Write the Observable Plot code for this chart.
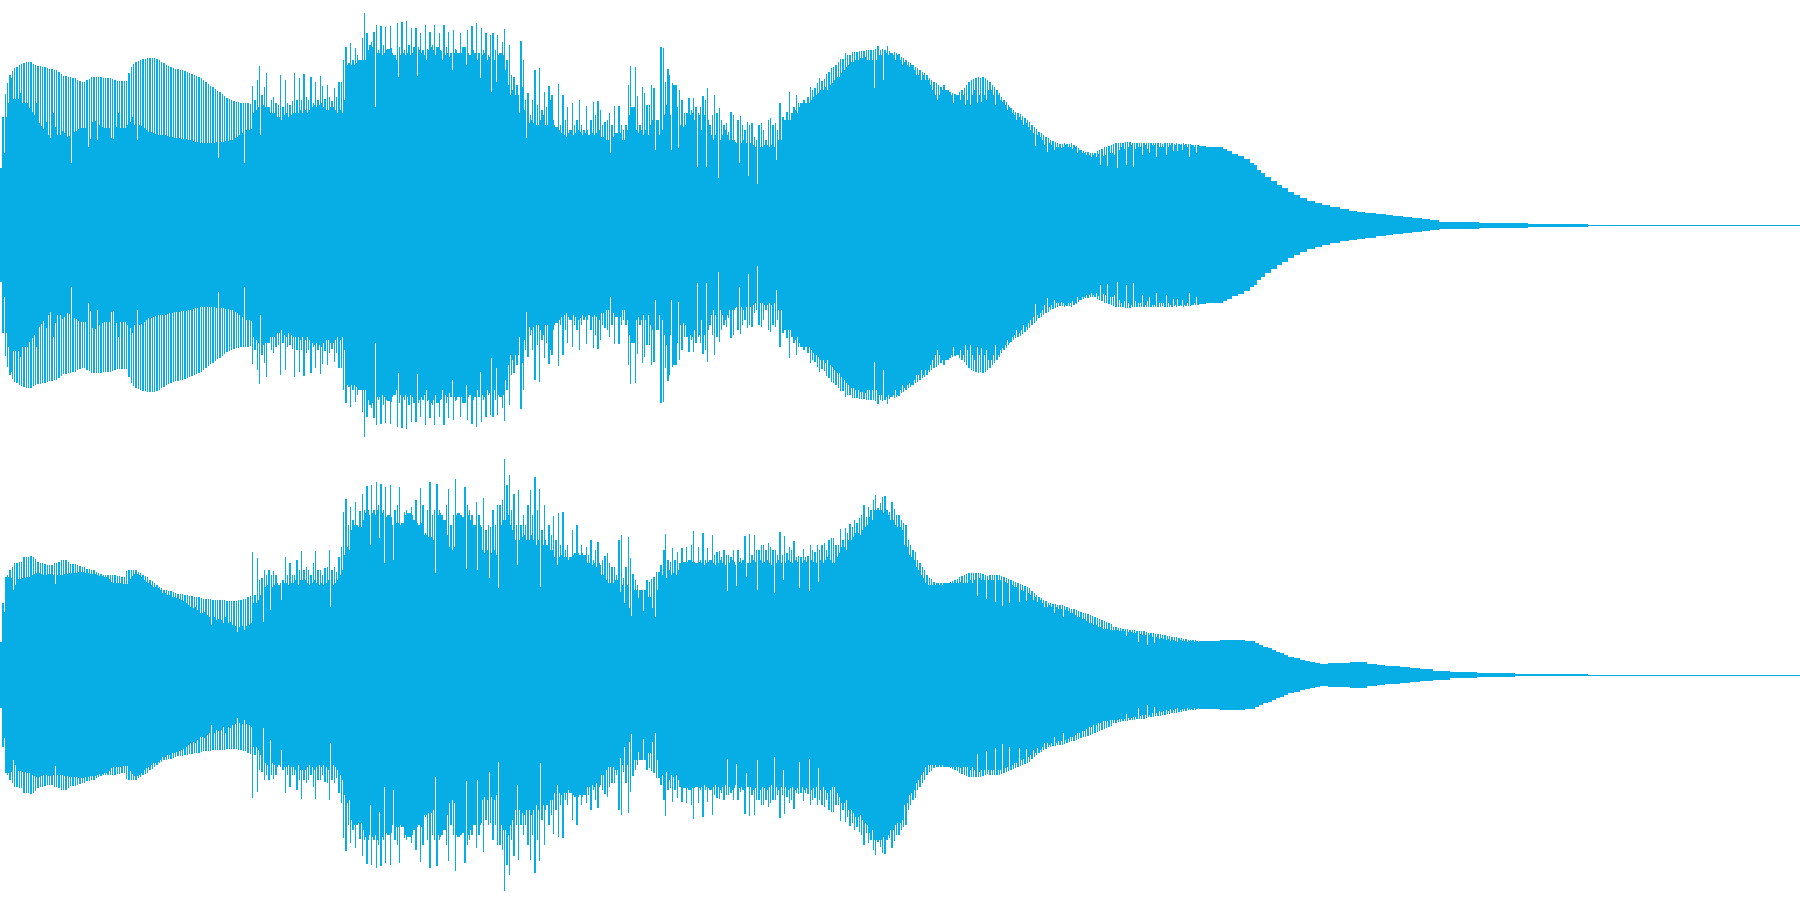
<!DOCTYPE html>
<html>
<head>
<meta charset="utf-8">
<style>html,body{margin:0;padding:0;background:#fff}svg{display:block}</style>
<script src="https://cdn.jsdelivr.net/npm/d3@7"></script>
<script src="https://cdn.jsdelivr.net/npm/@observablehq/plot@0.6"></script>
</head>
<body>
<div id="chart"></div>
<script>
// Amplitudes, one value per pitch period of the waveform.
const period = 7 / 3;
const peakA = [
57,108,131,142,150,154,157,158,160,161,
162,163,163,163,161,160,159,159,158,158,
157,156,156,155,155,153,151,149,149,148,
148,147,147,145,144,143,143,145,146,148,
148,148,148,148,147,147,147,147,146,145,
144,144,144,144,144,152,158,
161,163,164,
165,166,166,167,167,167,167,166,165,163,
162,160,159,158,157,156,156,155,155,154,
153,152,151,150,149,148,147,145,143,141,
139,138,136,134,133,131,129,127,126,125,
124,123,123,122,122,122,122,121,
139,125,145,159,130,138,152,118,125,128,
122,120,150,118,145,122,120,124,152,125,
147,125,151,128,125,148,122,143,125,149,
139,126,140,128,124,137,128,143,143,
165,178,160,182,165,177,170,160,187,212,
192,175,183,193,200,175,199,180,198,
175,199,172,170,202,178,203,175,204,180,
197,172,197,178,192,175,200,176,193,180,
200,175,192,174,200,178,193,172,195,176,
170,192,175,178,195,170,199,172,202,172,
197,175,192,170,190,192,175,190,172,183,
196,165,180,150,148,135,130,184,165,125,
132,110,125,155,120,157,115,133,118,139,
100,105,90,141,100,130,105,118,95,122,
100,105,125,100,95,119,90,105,123,110,124,
115,100,103,105,112,100,119,90,119,100,
95,100,140,159,105,158,129,100,138,132,
120,120,140,137,100,105,178,177,
143,156,110,142,137,118,135,125,112,112,127,
115,127,118,112,118,129,125,137,100,110,
130,112,117,105,100,102,93,113,110,83,
105,109,100,95,103,100,102,88,85,100,
102,95,85,105,107,100,102,95,122,100,
103,113,133,112,118,130,122,115,120,120,
128,138,135,137,142,147,144,146,151,153,
157,158,160,163,166,166,172,170,170,173,
173,173,174,174,174,175,175,175,175,176,
179,175,176,175,179,174,172,173,172,171,
168,167,165,163,162,160,158,157,155,153,
152,150,147,145,143,142,140,138,137,135,
135,133,132,131,130,133,135,137,140,143,
145,146,147,148,147,148,147,145,143,140,
138,135,132,128,125,123,120,117,115,113,
112,111,109,107,105,103,100,98,96,93,
92,90,88,87,85,84,83,82,81,81,
82,81,81,82,80,79,77,75,74,73,
73,72,72,72,74,75,76,78,78,79,
80,81,82,82,82,82,83,83,83,82,
82,82,82,82,82,82,82,82,82,82,
82,82,81,82,82,82,82,81,82,81,81,82,81,81,81,80,80,80,79
];
const floorA = [
57,72,108,122,147,126,126,126,132,122,
122,122,117,113,110,122,102,99,96,103,
90,87,112,98,90,90,94,92,88,89,
62,93,94,96,97,97,97,78,86,103,
104,85,100,98,97,97,97,87,86,98,
112,97,97,97,100,103,108,
100,85,100,
99,97,95,93,93,92,91,90,90,90,
90,89,88,88,87,87,87,86,86,86,
85,85,84,83,83,82,82,82,82,82,
82,82,83,67,83,83,84,84,85,85,
87,88,90,92,62,95,95,96,
112,115,118,90,120,118,118,112,112,112,
108,108,105,110,112,108,110,112,112,112,
115,112,115,112,115,118,120,118,120,122,
118,115,115,118,118,115,112,115,112,
125,160,162,160,160,162,165,165,165,165,
175,180,178,118,172,172,170,172,175,176,
177,170,165,148,170,172,170,172,170,172,
178,149,175,172,170,165,175,178,175,170,
178,175,165,170,172,168,155,172,175,172,
172,178,160,172,170,175,172,165,147,170,
172,165,168,133,165,143,170,172,170,155,
140,130,135,130,140,112,138,115,87,102,
105,102,100,100,105,110,100,100,125,130,
100,98,95,92,90,88,92,95,90,92,
95,93,90,92,95,90,92,90,92,95,
88,88,85,85,72,88,92,92,92,85,
85,95,110,118,118,95,92,95,90,95,
90,100,105,75,105,90,95,110,120,150,
75,140,140,77,100,98,100,112,110,112,
105,58,110,95,110,58,105,90,
85,90,47,85,90,95,90,85,85,85,
82,62,82,85,82,49,82,80,78,41,
78,78,80,80,78,80,78,65,85,85,
108,105,105,105,112,115,112,118,122,125,
122,122,125,128,130,132,135,135,138,135,
140,142,145,148,148,152,155,158,160,163,
163,165,165,167,167,168,
165,165,165,137,165,170,
170,145,172,170,172,170,165,170,165,160,
163,160,158,160,155,150,150,145,150,145,
145,140,135,130,125,130,135,140,135,133,
130,122,130,130,125,130,120,125,120,130,
135,122,130,123,130,125,135,135,130,120,
130,125,123,120,115,118,112,110,105,108,
105,100,102,98,95,92,79,90,88,85,
80,73,82,80,75,78,78,77,78,80,
78,78,76,78,72,75,72,72,70,70,
68,70,68,71,60,69,70,59,72,72,
70,57,75,78,76,60,78,80,58,76,
78,78,70,80,76,72,80,80,68,78,
78,78,70,78,80,74,80,74,80,75,80,78,68,80,78,72,80,78
];
const peakB = [
33,72,95,100,105,108,112,112,113,113,
118,118,118,119,118,116,113,112,112,111,
110,110,110,112,112,113,115,115,115,113,
111,111,111,110,109,108,108,106,106,105,
105,103,102,101,100,100,100,100,100,100,
99,99,98,98,104,
105,105,105,105,103,
102,100,99,98,95,94,92,90,88,87,
85,85,84,84,83,82,81,81,81,80,
80,79,79,78,78,78,77,76,76,76,
76,75,75,75,75,75,75,74,74,74,
74,74,75,75,76,76,78,79,
123,80,117,95,97,105,100,105,100,104,
100,90,92,95,118,100,112,100,100,115,
105,124,105,108,105,100,112,124,105,105,
100,107,108,125,105,108,103,118,128,
163,176,150,168,155,173,150,164,181,165,
189,160,190,165,193,170,191,165,188,160,
190,150,165,170,188,150,163,165,158,168,
155,175,150,187,170,142,165,193,160,165,
191,165,150,155,170,186,150,160,196,150,
160,155,188,170,165,160,148,173,160,148,
177,145,150,148,165,150,170,170,175,216,
190,200,165,
181,150,185,150,160,150,170,185,160,198,
165,186,145,170,130,150,140,159,135,162,
130,163,125,130,115,145,120,150,115,130,110,128,120,135,115,125,133,
110,115,119,122,112,108,108,100,135,140,
97,108,138,117,101,95,90,85,85,85,
95,93,96,98,103,102,110,123,141,115,
113,127,115,123,110,127,112,128,110,130,
144,110,128,115,142,115,127,105,140,120,
123,124,118,125,120,120,118,125,110,125,
117,115,139,110,141,120,140,125,125,130,
130,125,132,128,125,125,120,143,120,139,
122,128,125,134,118,119,118,126,118,119,
130,125,123,130,125,130,132,125,135,137,
137,130,130,146,135,147,142,151,148,155,
152,157,160,170,158,168,165,175,180,167,
172,178,179,165,163,173,166,160,160,155,
152,150,135,130,125,123,115,112,108,105,
100,97,96,93,92,92,92,92,92,92,
93,94,95,96,98,99,100,101,102,102,
102,102,102,102,101,100,99,100,100,100,
100,100,99,98,97,96,95,94,93,92,
91,90,89,88,87,84,82,80,78,77,
75,74,72,72,71,71,70,70,70,69,
68,67,66,66,65,64,63,62,62,61,
60,59,58,57,56,55,54,53,52,51,
48,48,47,47,46,46,46,45,45,45,
44,44,44,44,43,42,42,42,41,41,
41,40,40,39,39,38,38,38,37,37,
36,36,35,35,35,35,34,34
];
const floorB = [
33,63,98,98,97,85,90,96,96,97,
97,98,98,100,101,102,102,101,100,100,
101,101,100,91,100,100,100,101,101,102,
102,102,102,103,103,103,102,102,101,101,
101,100,99,99,98,98,96,93,92,92,
92,92,91,91,91,
96,99,101,101,100,
98,95,93,92,90,88,88,87,85,82,
82,80,80,78,78,77,76,75,74,72,
70,68,67,68,65,62,62,63,60,58,
50,58,55,56,55,52,58,52,53,50,
49,43,48,49,45,49,50,52,
72,72,75,80,53,88,90,65,88,90,
92,90,75,92,92,90,92,92,95,90,
95,95,95,92,90,92,95,92,90,92,
90,92,95,68,90,92,95,100,105,
120,128,125,145,150,150,148,148,155,162,
165,130,162,160,165,137,162,112,158,160,
158,115,152,152,150,152,160,162,162,160,
155,152,150,152,140,140,138,138,135,102,
160,162,160,155,140,128,125,128,160,162,
160,158,106,160,155,150,150,105,150,125,
122,125,97,122,125,120,87,150,155,155,
160,150,145,135,110,135,138,140,135,135,
140,135,130,135,88,130,135,130,125,125,
118,110,118,120,118,118,115,118,120,122,
122,120,122,120,112,112,110,112,108,112,
100,100,95,92,92,92,95,95,83,90,
72,90,67,59,85,85,77,85,
64,85,78,78,67,58,85,103,100,125,
97,105,100,102,100,105,112,113,113,113,115,113,113,112,
113,112,110,112,113,115,112,110,112,115,112,110,
84,112,115,113,89,113,112,115,98,112,
112,115,113,85,115,112,113,115,112,110,
82,112,115,112,95,112,115,113,112,115,
113,87,112,115,113,84,115,113,112,93,
115,112,115,118,115,112,
112,118,122,128,128,125,135,135,138,142,
142,140,145,148,150,158,155,165,165,165,
165,162,165,160,155,155,150,148,148,145,
130,128,120,118,115,108,105,100,97,92,
90,90,90,90,92,90,90,92,92,92,
92,92,92,92,93,92,92,92,95,92,
95,79,97,95,95,76,95,95,95,73,
95,95,69,93,92,72,90,88,88,73,
85,84,74,82,80,75,78,73,75,72,
68,68,70,68,62,68,66,66,58,65,
64,62,62,60,58,58,56,56,54,52,
52,50,50,48,48,46,46,46,45,45,
45,45,44,44,44,39,43,43,42,42,
33,41,40,40,30,40,38,32,38,36,
37,36,35,36,34,35,34,33,35,34,
34,33,34,34,33,34,33,33
];
// Decay tails: time of each step and the amplitude held until the next step.
const tailTimeA = [1201,1206,1219,1223,1227,1232,1238,1244,1250,1254,1257,1261,1265,1271,1277,1282,1288,1294,1300,1307,1315,1322,1330,1340,1349,1357,1365,1376,1386,1393,1403,1412,1422,1430,1439,1479,1528,1588];
const tailAmpA  = [79,78,78,76,74,71,69,66,62,60,55,52,48,44,40,37,33,30,27,24,22,20,18,16,14.5,13.5,12.5,11,10,9,8,7,6,5,3.5,2.5,1.5,0.5];
const tailTimeB = [1201,1220,1245,1255,1259,1263,1268,1272,1276,1280,1284,1288,1294,1300,1305,1310,1315,1320,1328,1350,1367,1377,1385,1400,1410,1420,1433,1450,1477,1515,1588];
const tailAmpB  = [34,35,34,32,30,28,27,25,23,22,20,18,17,15,14,13,12,11,12,13,11,10,9,8,7,6,4.5,3,2,1,0.5];
const endTime = 1800;
const colour = "#07aee6";
for (const [name, arr] of [["peakA",peakA],["floorA",floorA],["peakB",peakB],["floorB",floorB]])
  if (arr.length !== 515) throw new Error(name + " length " + arr.length);

const channel = (id, peak, floor, tailTime, tailAmp) => {
  const floors = floor.map((a, i) => ({id, t1: i * period, t2: (i + 1) * period, a}));
  const peaks = peak.map((a, i) => ({id, t1: i * period, t2: (i + 1) * period - 1, a}));
  const tail = tailAmp.map((a, i) => ({id, t1: tailTime[i], t2: i + 1 < tailTime.length ? tailTime[i + 1] : endTime, a}));
  return {floors, peaks, tail};
};
const A = channel("L", peakA, floorA, tailTimeA, tailAmpA);
const B = channel("R", peakB, floorB, tailTimeB, tailAmpB);
const bars = d => Plot.rect(d, {x1: "t1", x2: "t2", y1: r => -r.a, y2: "a", fy: "id", fill: colour, shapeRendering: "crispEdges"});

document.getElementById("chart").append(Plot.plot({
  width: 1800, height: 900,
  margin: 0,
  x: {domain: [0, 1800], axis: null},
  y: {domain: [-225, 225], axis: null},
  fy: {domain: ["L", "R"], axis: null, padding: 0},
  marks: [
    bars([...A.floors, ...B.floors]),
    bars([...A.peaks, ...B.peaks]),
    bars([...A.tail, ...B.tail])
  ]
}));
</script>
</body>
</html>
